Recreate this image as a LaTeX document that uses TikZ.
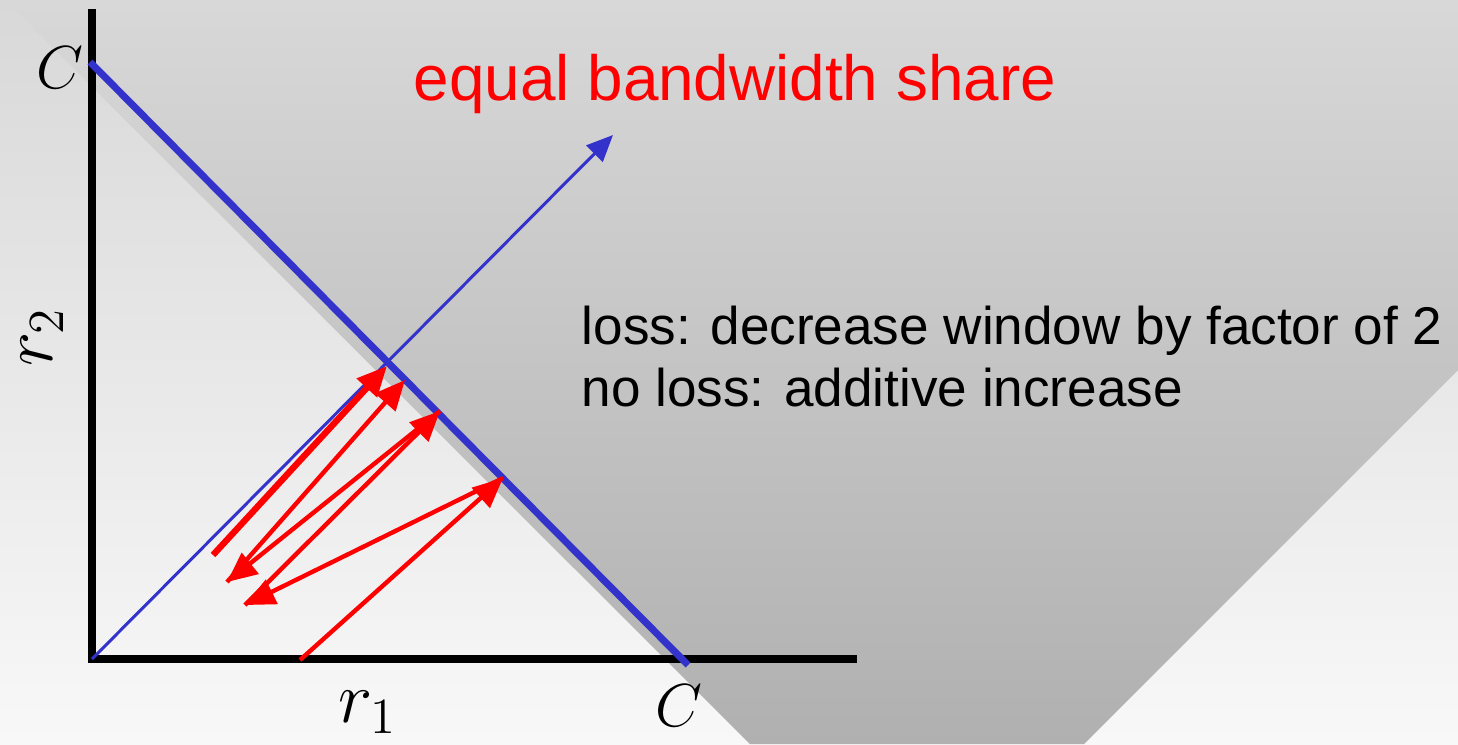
\documentclass[tikz,border=0pt]{standalone}
\usepackage{fontspec}
\setmainfont{Liberation Sans}
\usetikzlibrary{arrows.meta}
\definecolor{shareblue}{RGB}{51,51,204}
\definecolor{bgtop}{RGB}{216,216,216}
\definecolor{bgbot}{RGB}{248,248,248}
\definecolor{wedgebot}{RGB}{176,176,176}

\begin{document}
\begin{tikzpicture}[x=0.01cm,y=-0.01cm,
    axis/.style={line width=2.3pt},
    redarr/.style={red,line width=1.25pt,-{Triangle[length=8.5pt,width=7.5pt]}},
    mathlbl/.style={font=\fontsize{18}{20}\selectfont},
    txt/.style={anchor=base west,inner sep=0pt,font=\fontsize{15.1}{18}\selectfont}]
  % background: light gradient, darker wedge behind the capacity line
  \shade[top color=bgtop,bottom color=bgbot] (0,0) rectangle (1458,744);
  \shade[top color=bgtop,bottom color=wedgebot] (5,0) -- (1458,0) -- (1458,370) -- (1084,744) -- (750,744) -- cycle;
  \useasboundingbox (0,0) rectangle (1458,744);
  % axes and lines (pixel coords, y down)
  \coordinate (O) at (92,659);
  \coordinate (ytop) at (92,9);
  \coordinate (xend) at (857,659);
  \coordinate (Cy) at (90,62);
  \coordinate (Cx) at (688,665);
  \coordinate (fair) at (613,135);
  \draw[axis] (ytop) -- (O) -- (xend);
  \draw[shareblue,line width=2pt] (Cy) -- (Cx);
  \draw[shareblue,line width=0.85pt,-{Triangle[length=7.5pt,width=6.5pt]}] (O) -- (fair);
  % AIMD zigzag
  \coordinate (z0) at (300,660);
  \coordinate (z1) at (503,478);
  \coordinate (z2) at (245,605);
  \coordinate (z3) at (440,411);
  \coordinate (z4) at (227,582);
  \coordinate (z5) at (405,380);
  \coordinate (z6) at (213,555);
  \coordinate (z7) at (387,366);
  \foreach \a/\b in {z0/z1,z1/z2,z2/z3,z3/z4,z4/z5}
    \draw[redarr] (\a) -- (\b);
  \draw[redarr,line width=1.8pt] (z6) -- (z7);
  % labels
  \node[mathlbl] (ctop) at (60,68) {$C$};
  \node[mathlbl] (cright) at (679,706) {$C$};
  \node[mathlbl,font=\fontsize{19.5}{21}\selectfont] (rone) at (368,712) {$r_1$};
  \node[mathlbl,font=\fontsize{19.5}{21}\selectfont,rotate=90,inner sep=0pt] (rtwo) at (42,337) {$r_2$};
  \node[red,anchor=base west,inner sep=0pt,font=\fontsize{18.15}{22}\selectfont] (share) at (413,100) {equal bandwidth share};
  \node[txt] (loss) at (581,344) {loss: decrease window by factor of 2};
  \node[txt] (noloss) at (581,406) {no loss: additive increase};
\end{tikzpicture}
\end{document}
